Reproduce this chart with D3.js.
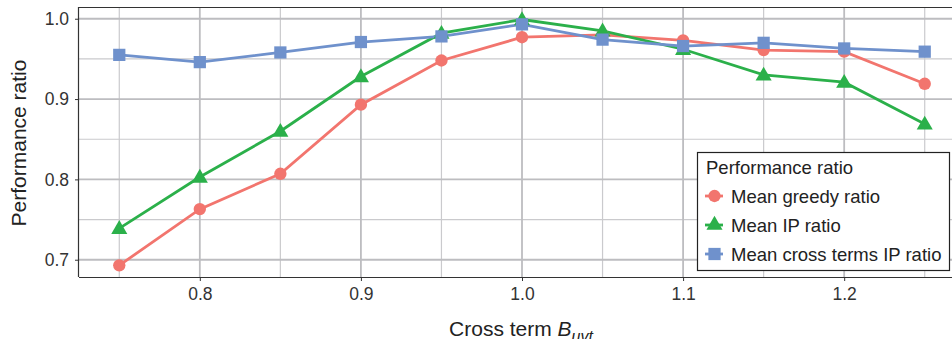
<!DOCTYPE html>
<html>
<head>
<meta charset="utf-8">
<script src="https://cdn.jsdelivr.net/npm/d3@7"></script>
<style>
  body { margin: 0; background: #fff; }
  svg { display: block; font-family: "Liberation Sans", Arial, sans-serif; }
</style>
</head>
<body>
<svg id="chart" width="952" height="339"></svg>
<script>
const crossTerms = [0.75, 0.8, 0.85, 0.9, 0.95, 1.0, 1.05, 1.1, 1.15, 1.2, 1.25];
const greedyRatio = [0.693, 0.763, 0.807, 0.893, 0.948, 0.977, 0.980, 0.973, 0.961, 0.959, 0.919];
const ipRatio = [0.739, 0.803, 0.860, 0.928, 0.982, 0.999, 0.985, 0.962, 0.930, 0.921, 0.869];
const crossIpRatio = [0.955, 0.946, 0.958, 0.971, 0.978, 0.993, 0.974, 0.966, 0.970, 0.963, 0.959];
const xTicks = [0.8, 0.9, 1.0, 1.1, 1.2];
const yTicks = [0.7, 0.8, 0.9, 1.0];
const xMinor = [0.75, 0.85, 0.95, 1.05, 1.15, 1.25];
const yMinor = [0.75, 0.85, 0.95];

const series = [
  {name: "Mean greedy ratio", values: greedyRatio, color: "#f2756e", shape: d3.symbolCircle, size: 120},
  {name: "Mean IP ratio", values: ipRatio, color: "#2bb04a", shape: d3.symbolTriangle, size: 112},
  {name: "Mean cross terms IP ratio", values: crossIpRatio, color: "#6f91cc", shape: d3.symbolSquare, size: 150}
];

const svg = d3.select("#chart");
const padLeft = 79, padTop = 7, padBottom = 277, padRight = 965;

const x = d3.scaleLinear().domain([0.725, 1.275]).range([padLeft, padRight]);
const y = d3.scaleLinear().domain([0.6785, 1.0146]).range([padBottom, padTop]);

// grid
const grid = svg.append("g");
grid.selectAll(".vminor").data(xMinor).enter().append("line")
  .attr("x1", d => x(d)).attr("x2", d => x(d)).attr("y1", padTop).attr("y2", padBottom)
  .attr("stroke", "#cacacd").attr("stroke-width", 1.2);
grid.selectAll(".hminor").data(yMinor).enter().append("line")
  .attr("x1", padLeft).attr("x2", 952).attr("y1", d => y(d)).attr("y2", d => y(d))
  .attr("stroke", "#cacacd").attr("stroke-width", 1.2);
grid.selectAll(".vmajor").data(xTicks).enter().append("line")
  .attr("x1", d => x(d)).attr("x2", d => x(d)).attr("y1", padTop).attr("y2", padBottom)
  .attr("stroke", "#bdbdc0").attr("stroke-width", 1.8);
grid.selectAll(".hmajor").data(yTicks).enter().append("line")
  .attr("x1", padLeft).attr("x2", 952).attr("y1", d => y(d)).attr("y2", d => y(d))
  .attr("stroke", "#bdbdc0").attr("stroke-width", 1.8);

// top border
svg.append("line").attr("x1", padLeft).attr("x2", 952).attr("y1", padTop + 0.5).attr("y2", padTop + 0.5)
  .attr("stroke", "#333").attr("stroke-width", 1.2);

// axes
const xAxis = svg.append("g").attr("transform", `translate(0,${padBottom})`)
  .call(d3.axisBottom(x).tickValues(xTicks).tickFormat(d3.format(".1f")).tickSizeOuter(0).tickSize(4).tickPadding(7));
const yAxis = svg.append("g").attr("transform", `translate(${padLeft},0)`)
  .call(d3.axisLeft(y).tickValues(yTicks).tickFormat(d3.format(".1f")).tickSizeOuter(0).tickSize(4).tickPadding(6));
[xAxis, yAxis].forEach(a => {
  a.select(".domain").attr("stroke", "#333").attr("stroke-width", 1.2);
  a.selectAll(".tick line").attr("stroke", "#333");
  a.selectAll("text").attr("fill", "#333").style("font-size", "17.5px");
});
xAxis.select(".domain").attr("d", `M${padLeft},0.5H952`);
yAxis.select(".domain").attr("d", `M-0.5,${padTop}V${padBottom}`);

// lines and points
const line = d3.line().x((d, i) => x(crossTerms[i])).y(d => y(d));
series.forEach(s => {
  svg.append("path").datum(s.values).attr("d", line)
    .attr("fill", "none").attr("stroke", s.color).attr("stroke-width", 2.8);
});
series.forEach(s => {
  svg.append("g").selectAll("path").data(s.values).enter().append("path")
    .attr("d", d3.symbol().type(s.shape).size(s.size))
    .attr("transform", (d, i) => `translate(${x(crossTerms[i])},${y(d) + (s.shape === d3.symbolTriangle ? 1 : 0)})`)
    .attr("fill", s.color);
});

// axis titles
svg.append("text").attr("transform", `translate(26,${(padTop + padBottom) / 2 + 1}) rotate(-90)`)
  .attr("text-anchor", "middle").attr("fill", "#222").style("font-size", "21px")
  .text("Performance ratio");
const xt = svg.append("text").attr("x", 521).attr("y", 336)
  .attr("text-anchor", "middle").attr("fill", "#222").style("font-size", "21px");
xt.append("tspan").text("Cross term ");
xt.append("tspan").attr("font-style", "italic").text("B");
xt.append("tspan").attr("font-style", "italic").attr("dy", 6).style("font-size", "16px").text("uvt");

// legend
const lg = svg.append("g").attr("transform", "translate(697,152)");
lg.append("rect").attr("x", 0.5).attr("y", 0.5).attr("width", 252).attr("height", 118)
  .attr("fill", "#fff").attr("stroke", "#222").attr("stroke-width", 1.2);
lg.append("text").attr("x", 9).attr("y", 21.5).attr("fill", "#222").style("font-size", "18.5px").text("Performance ratio");
series.forEach((s, i) => {
  const cy = 44 + i * 29;
  lg.append("line").attr("x1", 8).attr("x2", 26).attr("y1", cy).attr("y2", cy)
    .attr("stroke", s.color).attr("stroke-width", 2.8);
  lg.append("path").attr("d", d3.symbol().type(s.shape).size(s.size))
    .attr("transform", `translate(17.5,${cy})`).attr("fill", s.color);
  lg.append("text").attr("x", 34).attr("y", cy + 6.5).attr("fill", "#222").style("font-size", "18.5px").text(s.name);
});
</script>
</body>
</html>
